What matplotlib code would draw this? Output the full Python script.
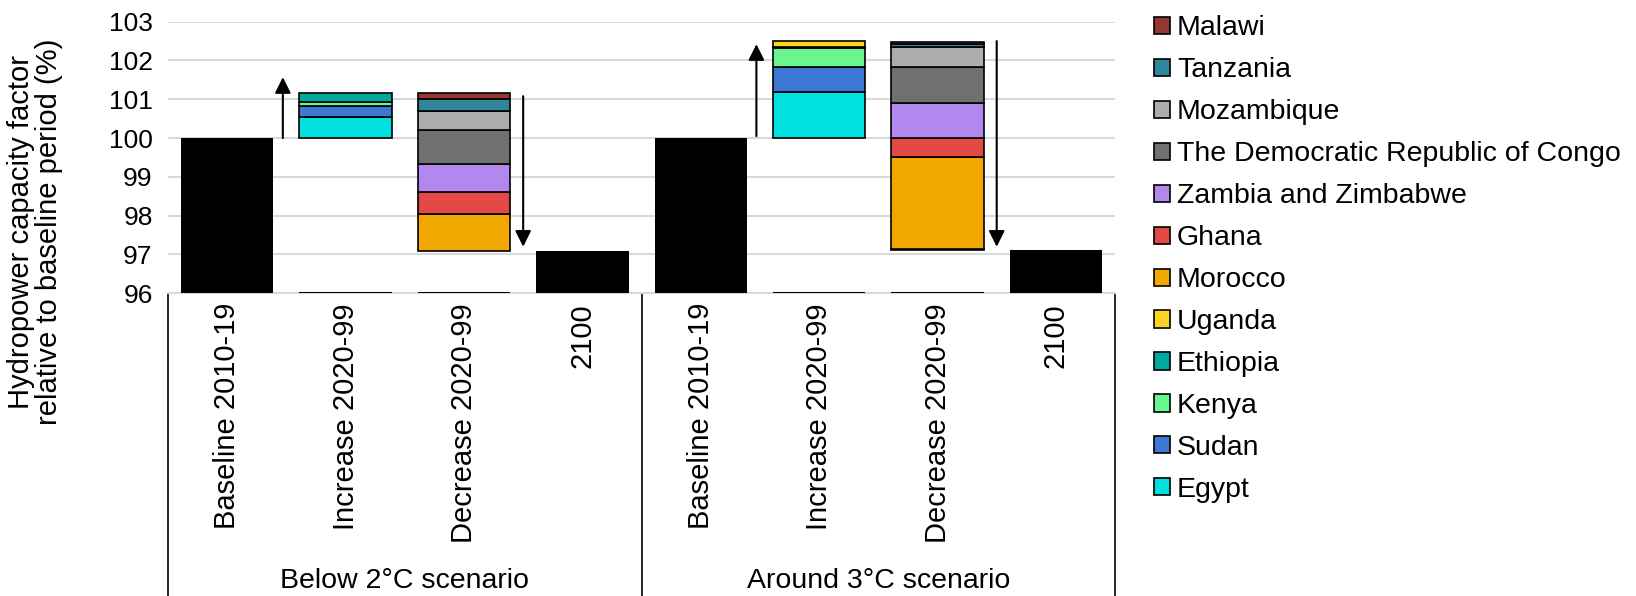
import matplotlib
matplotlib.use('Agg')
import matplotlib.pyplot as plt
import matplotlib.transforms as mtransforms
from matplotlib.patches import Patch

plt.rcParams['font.family'] = ['Liberation Sans', 'DejaVu Sans']

## Data
scenarios = ["Below 2°C scenario", "Around 3°C scenario"]
steps = ["Baseline 2010-19", "Increase 2020-99", "Decrease 2020-99", "2100"]
baseline = [100.0, 100.0]
end_2100 = [97.10, 97.12]

# stacking order, bottom to top
countries = ["Egypt", "Sudan", "Kenya", "Ethiopia", "Uganda", "Morocco", "Ghana",
             "Zambia and Zimbabwe", "The Democratic Republic of Congo",
             "Mozambique", "Tanzania", "Malawi"]
colors = ["#00E0DE", "#3C78D4", "#69F58F", "#00A99D", "#FFD324", "#F0A800",
          "#E34A46", "#B388EE", "#6F706F", "#ADADAD", "#31859C", "#943634"]

increase_2c = [0.55, 0.29, 0.10, 0.22, 0.0, 0.0, 0.0, 0.0, 0.0, 0.0, 0.0, 0.0]
increase_3c = [1.19, 0.64, 0.49, 0.02, 0.17, 0.0, 0.0, 0.0, 0.0, 0.0, 0.0, 0.0]
decrease_2c = [0.0, 0.0, 0.0, 0.0, 0.0, 0.94, 0.56, 0.74, 0.87, 0.48, 0.33, 0.15]
decrease_3c = [0.0, 0.0, 0.03, 0.0, 0.0, 2.37, 0.49, 0.89, 0.94, 0.52, 0.06, 0.05]

# arrows (start, tip) in % for each scenario
up_arrow = [(100.0, 101.57), (100.05, 102.42)]
down_arrow = [(101.08, 97.2), (102.5, 97.2)]

increases = [increase_2c, increase_3c]
decreases = [decrease_2c, decrease_3c]

FS = 20.5
W = 0.78

fig = plt.figure(figsize=(16.36, 5.96), dpi=100)
ax = fig.add_axes([0.1027, 0.5079, 0.5789, 0.4557])

for s in range(len(scenarios)):
    x0 = 4 * s
    # black totals
    ax.bar([x0, x0 + 3], [baseline[s] - 96, end_2100[s] - 96], bottom=96,
           width=W, color='black', zorder=3)
    # floating stacks
    bottom_inc = baseline[s]
    bottom_dec = end_2100[s]
    for i, c in enumerate(countries):
        if increases[s][i] > 0:
            ax.bar(x0 + 1, increases[s][i], bottom=bottom_inc, width=W,
                   color=colors[i], edgecolor='black', linewidth=1.2, zorder=3)
            bottom_inc += increases[s][i]
        if decreases[s][i] > 0:
            ax.bar(x0 + 2, decreases[s][i], bottom=bottom_dec, width=W,
                   color=colors[i], edgecolor='black', linewidth=1.2, zorder=3)
            bottom_dec += decreases[s][i]
    # thin black base of the invisible bars
    ax.bar([x0 + 1, x0 + 2], [0.03, 0.03], bottom=96, width=W,
           color='black', zorder=3)
    # arrows
    ax.annotate('', xy=(x0 + 0.47, up_arrow[s][1]), xytext=(x0 + 0.47, up_arrow[s][0]),
                arrowprops=dict(arrowstyle='-|>', color='black', lw=1.5,
                                mutation_scale=24, shrinkA=0, shrinkB=0), zorder=4)
    ax.annotate('', xy=(x0 + 2.5, down_arrow[s][1]), xytext=(x0 + 2.5, down_arrow[s][0]),
                arrowprops=dict(arrowstyle='-|>', color='black', lw=1.5,
                                mutation_scale=24, shrinkA=0, shrinkB=0), zorder=4)

ax.set_xlim(-0.5, 7.5)
ax.set_ylim(96, 103)
ax.set_yticks(range(96, 104))
ax.yaxis.grid(True, color='#D9D9D9', linewidth=1.5, zorder=0)
ax.set_axisbelow(True)
for sp in ['top', 'right', 'left']:
    ax.spines[sp].set_visible(False)
ax.spines['bottom'].set_color('#D9D9D9')
ax.spines['bottom'].set_linewidth(1.5)

ax.set_xticks(range(8))
ax.set_xticklabels(steps * 2, rotation=90, va='top')
ax.tick_params(axis='x', length=0, pad=7, labelsize=21)
ax.tick_params(axis='y', length=0, pad=11, labelsize=19)

## y label placed by hand, it hangs below the plot area in the original
fig.text(0.0215, 0.611, "Hydropower capacity factor\nrelative to baseline period (%)",
         rotation=90, ha='center', va='center', fontsize=21, linespacing=1.0)

## multi-level category axis
trans = mtransforms.blended_transform_factory(ax.transData, ax.transAxes)
for xb in [-0.5, 3.5, 7.5]:
    ax.plot([xb, xb], [0, -1.2], transform=trans, color='black', lw=1.2,
            clip_on=False)
for s in range(len(scenarios)):
    ax.text(4 * s + 1.5, -1.06, scenarios[s], transform=trans, ha='center',
            va='center', fontsize=FS)

## legend, top entry is the last stacked
handles = [Patch(facecolor=colors[i], edgecolor='black', linewidth=1.2)
           for i in range(len(countries))][::-1]
fig.legend(handles, countries[::-1], loc='upper left',
           bbox_to_anchor=(0.7055, 0.974), frameon=False, fontsize=FS,
           handlelength=0.55, handleheight=0.55, handletextpad=0.25,
           labelspacing=0.56, borderpad=0, borderaxespad=0)

fig.savefig('out.png', dpi=100)
